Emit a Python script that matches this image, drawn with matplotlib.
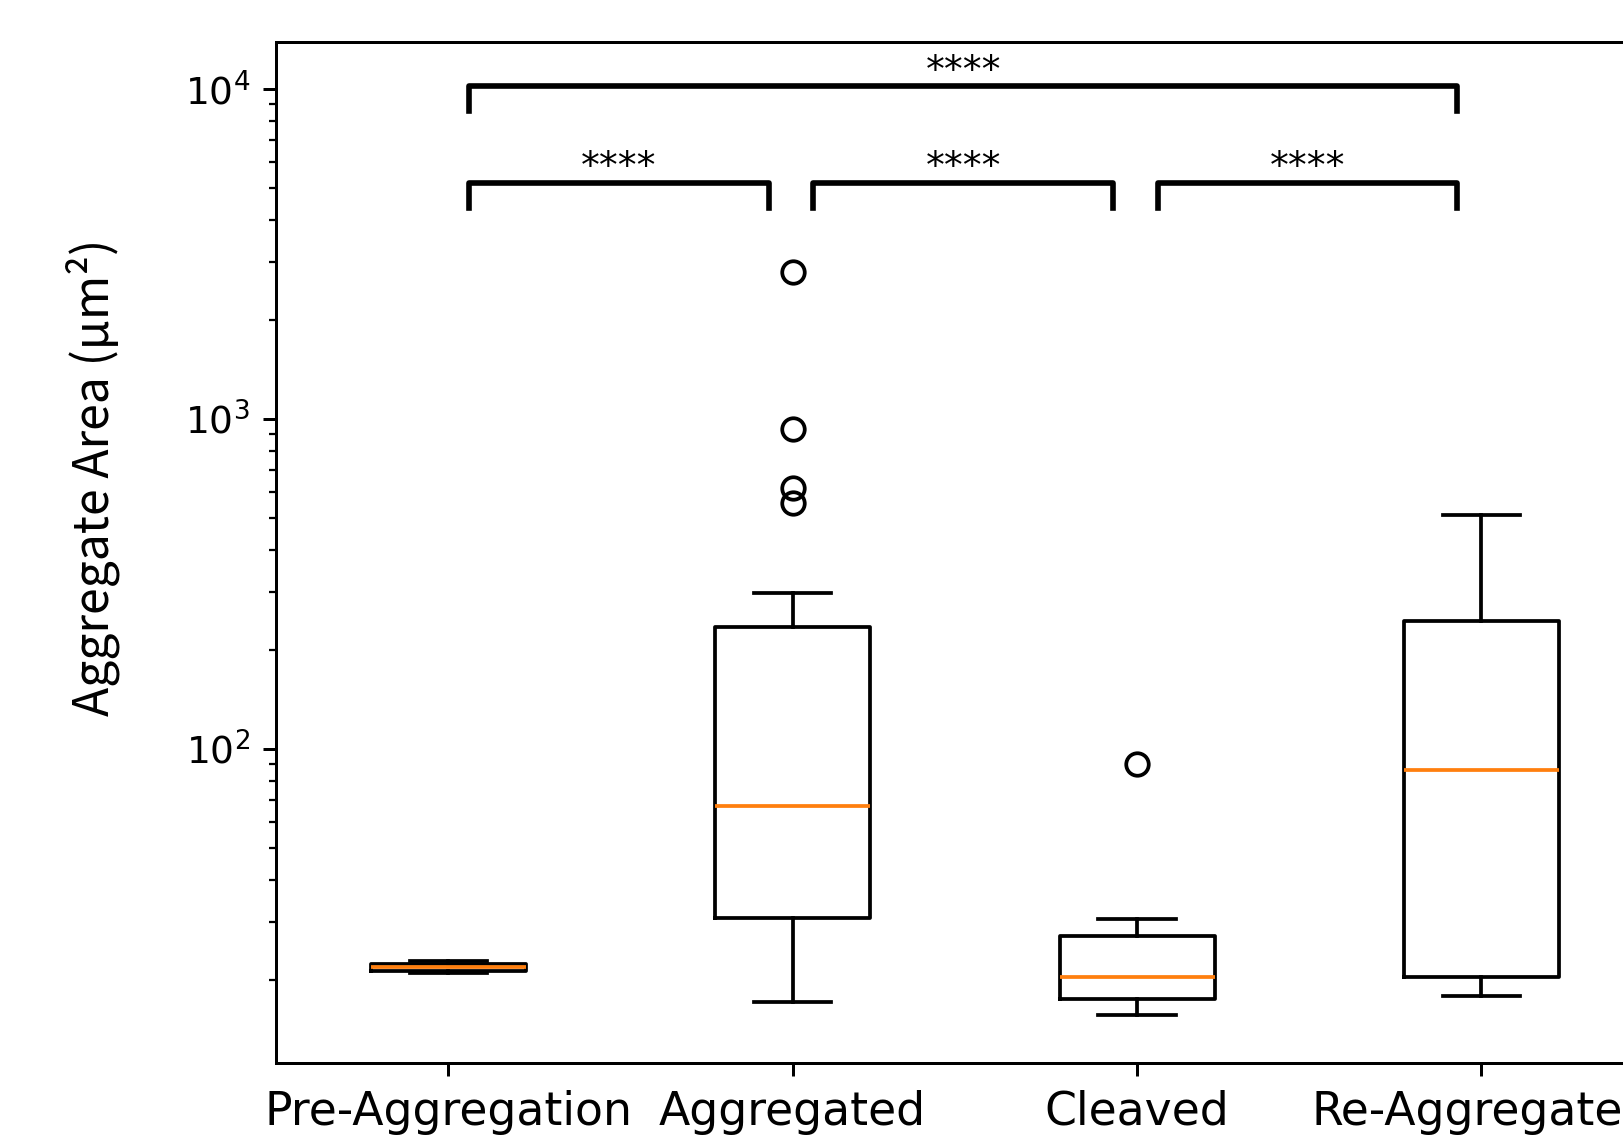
import matplotlib
matplotlib.use("Agg")
import matplotlib.pyplot as plt

# Box statistics (log-scale y axis)
groups = ["Pre-Aggregation", "Aggregated", "Cleaved", "Re-Aggregated"]
whislo = [20.9, 17.1, 15.6, 17.8]
q1 = [21.2, 30.7, 17.5, 20.4]
med = [21.8, 67.3, 20.4, 86.4]
q3 = [22.3, 235.0, 27.2, 245.0]
whishi = [22.8, 297.0, 30.5, 512.0]
fliers = [[], [2783, 931, 617, 555], [89.9], []]

# Significance brackets: (left group, right group, label)
pairs = [(1, 2), (2, 3), (3, 4), (1, 4)]
pair_labels = ["****", "****", "****", "****"]
bracket_top = [5200, 5200, 5200, 10200]
bracket_leg = [4350, 4350, 4350, 8590]

dpi = 270
fig = plt.figure(figsize=(1623 / dpi, 1136 / dpi), dpi=dpi)
ax = fig.add_axes([0.1701, 0.0640, 0.8488, 0.8993])

stats = []
for i in range(len(groups)):
    stats.append({
        "label": groups[i],
        "whislo": whislo[i],
        "q1": q1[i],
        "med": med[i],
        "q3": q3[i],
        "whishi": whishi[i],
        "fliers": fliers[i],
    })

ax.bxp(stats, positions=[1, 2, 3, 4], widths=0.45)
ax.set_yscale("log")
ax.set_xlim(0.5, 4.5)
ax.set_ylim(11.16, 13910)

# Brackets with stars
for (a, b), lab, top, leg in zip(pairs, pair_labels, bracket_top, bracket_leg):
    x1 = a + 0.06
    x2 = b - 0.07
    ax.plot([x1, x1, x2, x2], [leg, top, top, leg], color="black", lw=1.5)
    ax.text((x1 + x2) / 2, top * 1.03, lab, ha="center", va="baseline", fontsize=10)

ax.tick_params(axis="x", labelsize=12.2)
ax.tick_params(axis="y", labelsize=10)

ax.set_ylabel("Aggregate Area (μm²)", fontsize=12.8, family=["Noto Sans CJK JP", "DejaVu Sans"])
ax.yaxis.set_label_coords(-0.113, 0.574)

fig.savefig("out.png", dpi=dpi)
plt.close(fig)
